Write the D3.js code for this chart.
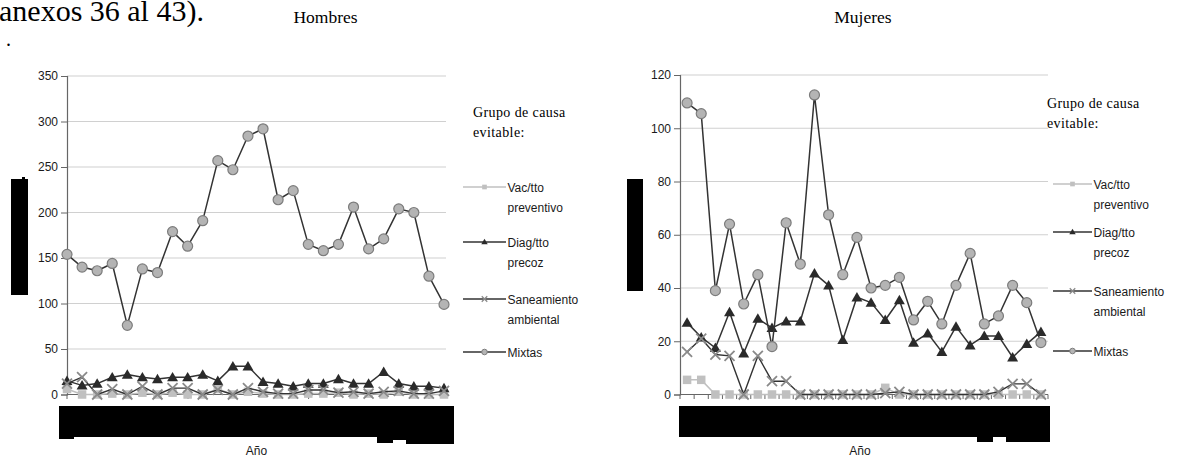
<!DOCTYPE html>
<html><head><meta charset="utf-8">
<script src="https://cdn.jsdelivr.net/npm/d3@7"></script>
<style>body{margin:0;background:#fff}svg{display:block}</style>
</head><body>
<svg id="c" width="1181" height="469"></svg>
<script>
// ---- data ----
const years = ["1980","1981","1982","1983","1984","1985","1986","1987","1988","1989","1990","1991","1992","1993","1994","1995","1996","1997","1998","1999","2000","2001","2002","2003","2004","2005"];
const seriesNames = ["Vac/tto preventivo","Diag/tto precoz","Saneamiento ambiental","Mixtas"];
const legendLines = [["Vac/tto","preventivo"],["Diag/tto","precoz"],["Saneamiento","ambiental"],["Mixtas"]];
const ticksHombres = [0,50,100,150,200,250,300,350];
const ticksMujeres = [0,20,40,60,80,100,120];

const vacH  = [6,0,0,1,0,2,0,2,0,0,6,0,3,1,0,0,1,1,2,0,1,0,3,0,0,0];
const diagH = [15,10,12,19,22,19,17,19,19,22,15,31,31,14,12,9,12,12,17,12,12,25,12,9,9,7];
const sanH  = [12,19,0,6,0,9,0,7,7,0,5,0,7,3,1,1,5,5,2,3,1,3,4,1,1,4];
const mixH  = [154,140,136,144,76,138,134,179,163,191,257,247,284,292,214,224,165,158,165,206,160,171,204,200,130,99];

const vacM  = [5.5,5.5,0,0,0,0,0,0,0,0,0,0,0,0,2.5,0,0,0,0,0,0,0,0,0,0,0];
const diagM = [27,21.5,17.5,31,15.5,28.5,25,27.5,27.5,45.5,41,20.5,36.5,34.5,28,35.5,19.5,23,16,25.5,18.5,22,22,14,19,23.5];
const sanM  = [16,21,15,14.5,0,14.5,5,5,0,0,0,0,0,0,0.5,1,0,0,0,0,0,0,1,4,4,0];
const mixM  = [109.5,105.5,39,64,34,45,18,64.5,49,112.5,67.5,45,59,40,41,44,28,35,26.5,41,53,26.5,29.5,41,34.5,19.5];

const svg = d3.select("#c");
const SANS = "'Liberation Sans', Arial, sans-serif";
const SERIF = "'Liberation Serif', 'Times New Roman', serif";

// header text
svg.append("text").attr("x",-1).attr("y",20.5).attr("font-family",SERIF).attr("font-size",30).attr("fill","#000").text("anexos 36 al 43).");
svg.append("text").attr("x",6).attr("y",46).attr("font-family",SERIF).attr("font-size",20).attr("fill","#000").text(".");

const styles = [
  {line:"#c0c0c0", w:1.5, marker:"square"},
  {line:"#333333", w:1.5, marker:"triangle"},
  {line:"#333333", w:1.4, marker:"x"},
  {line:"#333333", w:1.5, marker:"circle"}
];

function drawMarker(g, type, x, y, big){
  const s = big ? 1 : 0.55;
  if(type==="square"){
    const a = 8.5*s;
    g.append("rect").attr("x",x-a/2).attr("y",y-a/2).attr("width",a).attr("height",a).attr("fill","#c0c0c0");
  } else if(type==="triangle"){
    g.append("path").attr("transform",`translate(${x},${y+ (big?1:0.5)})`).attr("d",d3.symbol(d3.symbolTriangle, big?52:18)()).attr("fill","#2a2a2a");
  } else if(type==="x"){
    const a = 5*s;
    g.append("path").attr("d",`M${x-a},${y-a}L${x+a},${y+a}M${x-a},${y+a}L${x+a},${y-a}`).attr("stroke","#8a8a8a").attr("stroke-width",big?1.8:1.3).attr("fill","none");
  } else {
    g.append("circle").attr("cx",x).attr("cy",y).attr("r",big?5:2.8).attr("fill","#b4b4b4").attr("stroke","#7c7c7c").attr("stroke-width",big?1.2:1);
  }
}

function panel(cfg){
  const g = svg.append("g");
  const y = d3.scaleLinear().domain([0,cfg.max]).range([394.5,cfg.yTop]);
  const x = d3.scalePoint().domain(years).range(cfg.xRange).padding(cfg.pad);
  // gridlines
  g.selectAll(".grid").data(cfg.ticks.filter(t=>t>0)).join("line")
    .attr("x1",cfg.axisX).attr("x2",cfg.gridEnd).attr("y1",d=>y(d)).attr("y2",d=>y(d))
    .attr("stroke","#d0d0d0").attr("stroke-width",1.2);
  // y axis
  const ya = g.append("g").attr("transform",`translate(${cfg.axisX},0)`)
    .call(d3.axisLeft(y).tickValues(cfg.ticks).tickSize(6).tickPadding(3).tickFormat(d3.format("d")));
  ya.select(".domain").attr("stroke","#666").attr("stroke-width",1.2);
  ya.selectAll(".tick line").attr("stroke","#666");
  ya.selectAll("text").attr("font-family",SANS).attr("font-size",12).attr("fill","#1a1a1a");
  // x axis line
  g.append("line").attr("x1",cfg.axisX).attr("x2",cfg.gridEnd).attr("y1",394.5).attr("y2",394.5).attr("stroke","#666").attr("stroke-width",1.2);
  g.selectAll(".xt").data(cfg.xTicks).join("line")
    .attr("x1",d=>d).attr("x2",d=>d).attr("y1",394.5).attr("y2",399).attr("stroke","#666");
  // series
  cfg.series.forEach((vals,si)=>{
    const st = styles[si];
    const line = d3.line().x((d,i)=>x(years[i])).y(d=>y(d));
    g.append("path").datum(vals).attr("d",line).attr("fill","none").attr("stroke",st.line).attr("stroke-width",st.w).attr("stroke-linejoin","round");
    const mg = g.append("g");
    vals.forEach((v,i)=>drawMarker(mg, st.marker, x(years[i]), y(v), true));
  });
  // title
  svg.append("text").attr("x",cfg.titleX).attr("y",23).attr("text-anchor","middle")
    .attr("font-family",SERIF).attr("font-size",17.5).text(cfg.title);
  // x axis label
  svg.append("text").attr("x",cfg.anoX).attr("y",455).attr("text-anchor","middle")
    .attr("font-family",SANS).attr("font-size",12).attr("fill","#1a1a1a").text("Año");
  // legend
  const lg = svg.append("g");
  lg.append("text").attr("x",cfg.leg.tx).attr("y",cfg.leg.ty).attr("font-family",SERIF).attr("font-size",14).attr("letter-spacing",0.4).text("Grupo de causa");
  lg.append("text").attr("x",cfg.leg.tx).attr("y",cfg.leg.ty+20).attr("font-family",SERIF).attr("font-size",14).attr("letter-spacing",0.4).text("evitable:");
  legendLines.forEach((lines,i)=>{
    const ly = cfg.leg.ys[i];
    lg.append("line").attr("x1",cfg.leg.lx1).attr("x2",cfg.leg.lx2).attr("y1",ly).attr("y2",ly).attr("stroke",styles[i].line).attr("stroke-width",1.6);
    drawMarker(lg, styles[i].marker, (cfg.leg.lx1+cfg.leg.lx2)/2, ly, false);
    lines.forEach((t,j)=>{
      lg.append("text").attr("x",cfg.leg.lx2+1.5).attr("y",ly+5+j*19.5).attr("font-family",SANS).attr("font-size",12).attr("fill","#1a1a1a").text(t);
    });
  });
  // redaction boxes
  cfg.boxes.forEach(b=>svg.append("rect").attr("x",b[0]).attr("y",b[1]).attr("width",b[2]).attr("height",b[3]).attr("fill","#000"));
}

panel({
  title:"Hombres", titleX:325.5, anoX:256.5,
  max:350, yTop:76, ticks:ticksHombres,
  xRange:[67,444], pad:0, axisX:67, gridEnd:446,
  xTicks:[67,188,308.6,429],
  series:[vacH,diagH,sanH,mixH],
  leg:{tx:473, ty:116.5, lx1:463, lx2:506, ys:[187,242,299,352]},
  boxes:[[11,179,17,116],[22,177,3,3],[59,406,395,31],[59,437,15,2],[377,437,16,6],[393,437,13,3],[406,437,48,7]]
});

const stepM = 368/26;
panel({
  title:"Mujeres", titleX:863, anoX:860,
  max:120, yTop:75, ticks:ticksMujeres,
  xRange:[680,1048], pad:0.5, axisX:680, gridEnd:1048,
  xTicks:d3.range(27).map(i=>680+i*stepM),
  series:[vacM,diagM,sanM,mixM],
  leg:{tx:1047, ty:107.5, lx1:1053, lx2:1092, ys:[184,232,291,351]},
  boxes:[[627,179,16,112],[679,406,371,31],[977,437,16,5],[1006,437,44,5]]
});
</script>
</body></html>
